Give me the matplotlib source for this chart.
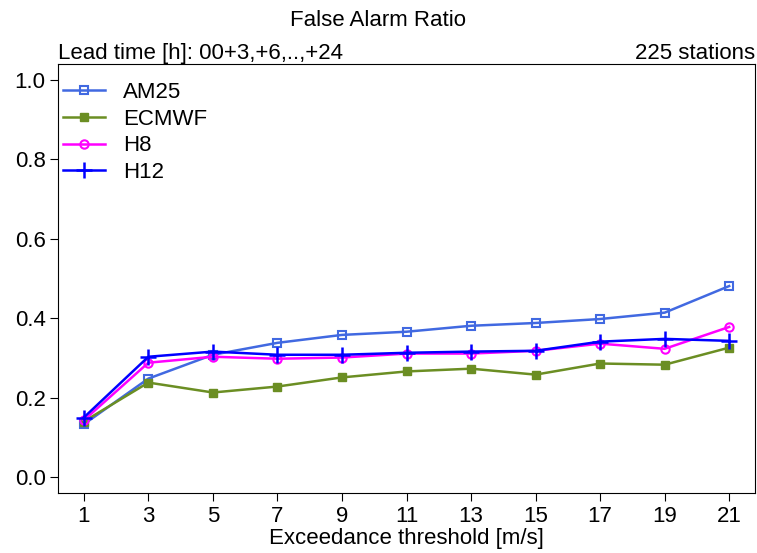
import matplotlib
matplotlib.use("Agg")
from matplotlib import pyplot as plt

plt.rcParams['font.family'] = ['Liberation Sans', 'DejaVu Sans']

# Exceedance thresholds [m/s]
thresholds = [1, 3, 5, 7, 9, 11, 13, 15, 17, 19, 21]

# False alarm ratio per model
am25 = [0.133, 0.248, 0.308, 0.338, 0.358, 0.366, 0.381, 0.388, 0.398, 0.414, 0.481]
ecmwf = [0.140, 0.238, 0.213, 0.228, 0.251, 0.266, 0.273, 0.258, 0.286, 0.283, 0.326]
h8 = [0.143, 0.288, 0.303, 0.298, 0.301, 0.311, 0.311, 0.318, 0.336, 0.323, 0.378]
h12 = [0.150, 0.303, 0.316, 0.308, 0.308, 0.313, 0.316, 0.318, 0.341, 0.348, 0.343]

fs = 16

fig = plt.figure(figsize=(7.57, 5.53), dpi=100)
ax = fig.add_axes([58 / 757, 1 - 493 / 553, 697 / 757, 429 / 553])

ax.plot(thresholds, am25, color='#4169E1', marker='s', markerfacecolor='none',
        markersize=5.5, markeredgewidth=1.5, linewidth=1.8, label='AM25')
ax.plot(thresholds, ecmwf, color='#6B8E23', marker='s', markersize=5.5,
        linewidth=1.8, label='ECMWF')
ax.plot(thresholds, h8, color='#FF00FF', marker='o', markerfacecolor='none',
        markersize=6, markeredgewidth=1.5, linewidth=1.8, label='H8')
ax.plot(thresholds, h12, color='#0000FF', marker='+', markersize=11,
        markeredgewidth=1.8, linewidth=1.8, label='H12')

ax.set_xlim(0.2, 21.8)
ax.set_ylim(-0.04, 1.04)
ax.set_xticks(thresholds)
ax.set_yticks([0.0, 0.2, 0.4, 0.6, 0.8, 1.0])
ax.tick_params(direction='out', length=6, labelsize=fs, pad=3)
ax.set_xlabel('Exceedance threshold [m/s]', fontsize=fs, labelpad=1)

fig.text(0.5, 1 - 20 / 553, 'False Alarm Ratio', ha='center', va='center', fontsize=fs)
ax.text(0.0, 1.0, 'Lead time [h]: 00+3,+6,..,+24', transform=ax.transAxes,
        ha='left', va='bottom', fontsize=fs)
ax.text(1.0, 1.0, '225 stations', transform=ax.transAxes,
        ha='right', va='bottom', fontsize=fs)

ax.legend(loc='upper left', bbox_to_anchor=(3 / 697, 1 - 16 / 429), frameon=False,
          fontsize=fs, handlelength=1.9, handletextpad=0.8, borderaxespad=0,
          borderpad=0.1, labelspacing=0.25)

fig.savefig('out.png', dpi=100)
